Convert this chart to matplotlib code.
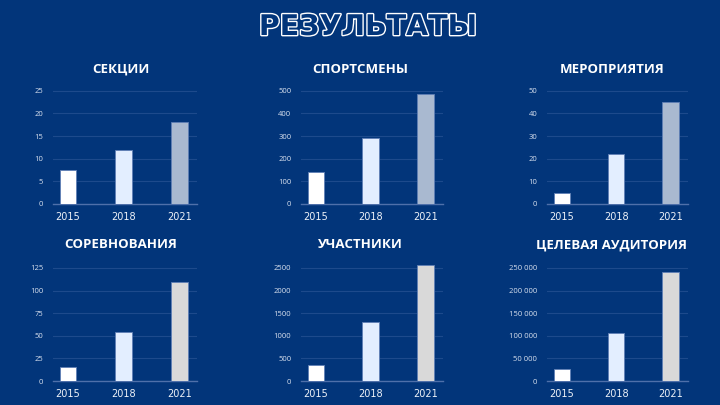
import matplotlib
matplotlib.use("Agg")
import matplotlib.pyplot as plt
import matplotlib.patheffects as pe
from matplotlib.ticker import FuncFormatter

years = ["2015", "2018", "2021"]
titles = ["СЕКЦИИ", "СПОРТСМЕНЫ", "МЕРОПРИЯТИЯ",
          "СОРЕВНОВАНИЯ", "УЧАСТНИКИ", "ЦЕЛЕВАЯ АУДИТОРИЯ"]
sekcii = [7.5, 12, 18]
sportsmeny = [140, 290, 487]
meropriyatiya = [5, 22, 45]
sorevnovaniya = [16, 54, 109]
uchastniki = [360, 1300, 2565]
auditoriya = [26000, 107000, 242000]
yticks = [
    [0, 5, 10, 15, 20, 25],
    [0, 100, 200, 300, 400, 500],
    [0, 10, 20, 30, 40, 50],
    [0, 25, 50, 75, 100, 125],
    [0, 500, 1000, 1500, 2000, 2500],
    [0, 50000, 100000, 150000, 200000, 250000],
]
series = [sekcii, sportsmeny, meropriyatiya, sorevnovaniya, uchastniki, auditoriya]

BG = "#02357a"
c_top = ["#ffffff", "#e3eeff", "#a9b9d0"]
c_bot = ["#ffffff", "#e3eeff", "#d9d9d9"]

plt.rcParams['font.family'] = ['Open Sans', 'DejaVu Sans']

fig = plt.figure(figsize=(7.2, 4.05), dpi=100, facecolor=BG)

W, H = 720, 405
lefts = [(53, 197), (301, 443), (547, 688)]
zero_rows = [(204, 90.7), (381, 268)]
title_x = [121, 360, 612]
title_y = [69.5, 245]
margin = 1.05

fig.text(368 / W, 1 - 27 / H, "РЕЗУЛЬТАТЫ", ha="center", va="center",
         fontsize=20.5, fontweight="bold", color=BG, family=["DejaVu Sans"],
         path_effects=[pe.Stroke(linewidth=2.0, foreground="white"), pe.Normal()])

def fmt_space(v, pos):
    return f"{int(v):,}".replace(",", " ")

for i, (title, vals, ticks) in enumerate(zip(titles, series, yticks)):
    r, c = divmod(i, 3)
    x0, x1 = lefts[c]
    y0, ytop = zero_rows[r]
    hpx = (y0 - ytop) * margin
    ax = fig.add_axes([x0 / W, (H - y0) / H, (x1 - x0) / W, hpx / H])
    ax.set_facecolor(BG)
    cols = c_top if r == 0 else c_bot
    ax.bar(range(3), vals, width=0.3, color=cols, edgecolor="#5f7fb5",
           linewidth=0.6, zorder=3)
    ax.set_xlim(-0.27, 2.32)
    ax.set_ylim(0, ticks[-1] * margin)
    ax.set_yticks(ticks)
    if ticks[-1] >= 100000:
        ax.yaxis.set_major_formatter(FuncFormatter(fmt_space))
    ax.set_xticks(range(3))
    ax.set_xticklabels(years)
    for s in ["top", "right", "left"]:
        ax.spines[s].set_visible(False)
    ax.spines["bottom"].set_color("#4f70aa")
    ax.spines["bottom"].set_linewidth(1.0)
    ax.grid(axis="y", color="#1d4a8c", linewidth=0.8, zorder=0)
    ax.set_axisbelow(True)
    ax.tick_params(axis="y", length=0, pad=7, labelsize=5.5, labelcolor="#d8e0ee")
    ax.tick_params(axis="x", length=0, pad=6, labelsize=7, labelcolor="#eef2f8")
    for lbl in ax.get_xticklabels():
        lbl.set_family(["DejaVu Sans"])
    fig.text(title_x[c] / W, 1 - title_y[r] / H, title, ha="center", va="center",
             color="white", fontsize=9.5, fontweight="bold")

fig.savefig("out.png", dpi=100, facecolor=BG)
